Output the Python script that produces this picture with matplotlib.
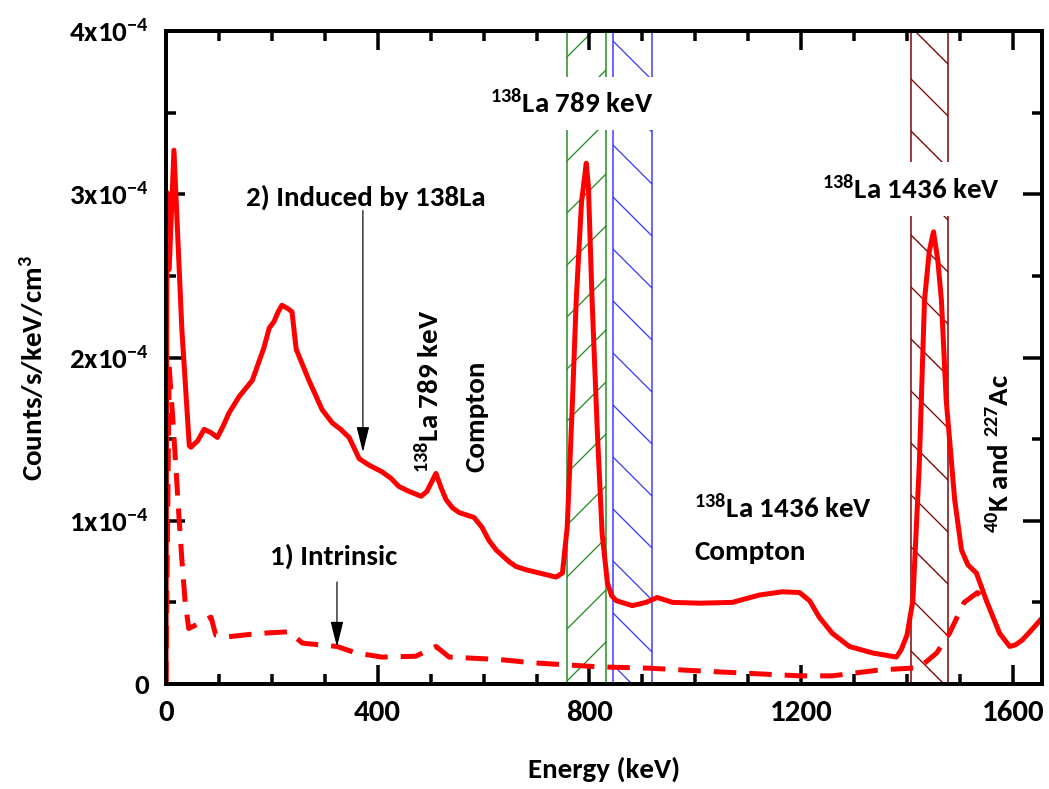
import matplotlib
matplotlib.use('Agg')
import matplotlib.pyplot as plt
from matplotlib import font_manager
from matplotlib.ticker import MultipleLocator, FixedLocator, FixedFormatter
from matplotlib.patches import ArrowStyle

DPI = 156
W, H = 1049, 789


def px(p):
    return p * 72.0 / DPI


# ---------------- data ----------------
# 2) induced by 138La (solid), counts in units of 1e-4 counts/s/keV/cm^3
energy_induced = [0, 2, 6, 15, 30, 44, 47, 60, 72, 85, 97, 108, 119, 138, 163, 185, 195, 204,
                  212, 219, 230, 238, 246, 270, 295, 314, 330, 346, 365, 384, 408, 425, 440,
                  459, 482, 493, 510, 520, 529, 541, 554, 582, 597, 610, 624, 648, 661, 680,
                  705, 737, 749, 758, 768, 775, 785, 794, 798, 805, 815, 824, 834, 842, 851,
                  881, 907, 928, 957, 1008, 1070, 1121, 1165, 1197, 1216, 1234, 1259, 1291,
                  1335, 1380, 1389, 1400, 1411, 1423, 1433, 1442, 1450, 1458, 1465, 1474, 1490,
                  1503, 1515, 1531, 1540, 1550, 1575, 1594, 1605, 1618, 1635, 1654]
counts_induced = [0.0, 3.01, 2.54, 3.27, 2.17, 1.46, 1.45, 1.49, 1.56, 1.54, 1.51, 1.58, 1.66,
                  1.76, 1.86, 2.06, 2.18, 2.22, 2.28, 2.32, 2.30, 2.28, 2.05, 1.86, 1.68, 1.60,
                  1.56, 1.51, 1.38, 1.34, 1.30, 1.26, 1.21, 1.18, 1.15, 1.18, 1.29, 1.20, 1.13,
                  1.08, 1.05, 1.02, 0.96, 0.88, 0.82, 0.75, 0.72, 0.70, 0.68, 0.655, 0.68, 0.96,
                  1.74, 2.35, 2.95, 3.19, 3.05, 2.35, 1.54, 0.92, 0.62, 0.54, 0.51, 0.48, 0.50,
                  0.53, 0.50, 0.495, 0.50, 0.545, 0.565, 0.56, 0.51, 0.41, 0.31, 0.23, 0.19,
                  0.165, 0.21, 0.30, 0.51, 1.33, 2.35, 2.65, 2.77, 2.60, 2.35, 1.74, 1.13, 0.82,
                  0.73, 0.68, 0.60, 0.51, 0.31, 0.23, 0.24, 0.27, 0.33, 0.40]

# 1) intrinsic (dashed)
energy_intrinsic = [0, 6, 9, 13, 19, 25, 30, 36, 43, 62, 85, 94, 119, 176, 232, 258, 323, 359,
                    408, 472, 510, 535, 630, 692, 818, 913, 1008, 1197, 1259, 1348, 1423, 1456,
                    1480, 1508, 1533, 1545]
counts_intrinsic = [0.0, 1.95, 1.80, 1.62, 1.31, 1.00, 0.76, 0.51, 0.34, 0.37, 0.41, 0.30, 0.29,
                    0.31, 0.32, 0.25, 0.23, 0.19, 0.165, 0.17, 0.23, 0.165, 0.15, 0.13, 0.105,
                    0.097, 0.08, 0.05, 0.05, 0.086, 0.10, 0.19, 0.31, 0.50, 0.56, 0.52]

# energy windows (keV)
band_lo = [758, 845, 1408]
band_hi = [832, 918, 1478]

xtick_values = [0, 400, 800, 1200, 1600]
xtick_labels = ['0', '400', '800', '1200', '1600']
ytick_values = [0, 1e-4, 2e-4, 3e-4, 4e-4]
ytick_labels = ['0', r'$\mathrm{1x10}^{-4}$', r'$\mathrm{2x10}^{-4}$',
                r'$\mathrm{3x10}^{-4}$', r'$\mathrm{4x10}^{-4}$']

band_colors = ['#228b22', '#3a3aff', '#800000']
band_hatches = ['/', '\\', '\\']

# ---------------- style ----------------
available = {f.name for f in font_manager.fontManager.ttflist}
FONT = 'DejaVu Sans'
for cand in ['Carlito', 'Liberation Sans Narrow', 'Archivo Narrow', 'Barlow Semi Condensed',
             'Lato']:
    if cand in available:
        FONT = cand
        break

plt.rcParams['font.family'] = [FONT, 'DejaVu Sans']
plt.rcParams['font.weight'] = 'bold'
plt.rcParams['mathtext.fontset'] = 'custom'
plt.rcParams['mathtext.rm'] = FONT + ':bold'
plt.rcParams['mathtext.it'] = FONT + ':bold'
plt.rcParams['mathtext.bf'] = FONT + ':bold'
plt.rcParams['mathtext.sf'] = FONT + ':bold'
plt.rcParams['hatch.linewidth'] = px(1.3)

FS = px(29)

fig = plt.figure(figsize=(W / DPI, H / DPI), dpi=DPI)
ax = fig.add_axes([166 / W, 1 - 684 / H, (1042 - 166) / W, (684 - 31) / H])

scale = 1e-4
y_ind = [c * scale for c in counts_induced]
y_int = [c * scale for c in counts_intrinsic]

for lo, hi, c, h in zip(band_lo, band_hi, band_colors, band_hatches):
    ax.axvspan(lo, hi, facecolor='none', edgecolor=c, hatch=h, linewidth=px(1.5), zorder=1)

ax.plot(energy_induced, y_ind, color='#ff0000', lw=px(5), solid_joinstyle='round', zorder=3)
ax.plot(energy_intrinsic, y_int, color='#ff0000', lw=px(5), dashes=(4.5, 2.6),
        dash_capstyle='butt', zorder=3)

ax.set_xlim(0, 1655)
ax.set_ylim(0, 4e-4)

ax.xaxis.set_major_locator(FixedLocator(xtick_values))
ax.xaxis.set_major_formatter(FixedFormatter(xtick_labels))
ax.xaxis.set_minor_locator(MultipleLocator(100))
ax.yaxis.set_major_locator(FixedLocator(ytick_values))
ax.yaxis.set_major_formatter(FixedFormatter(ytick_labels))
ax.yaxis.set_minor_locator(MultipleLocator(0.5e-4))

ax.tick_params(which='both', direction='in', top=True, right=True, width=px(3.5))
ax.tick_params(which='major', length=px(19))
ax.tick_params(which='minor', length=px(10))
ax.tick_params(axis='x', which='major', pad=px(16), labelsize=px(31))
ax.tick_params(axis='y', which='major', pad=px(17), labelsize=px(29))
for s in ax.spines.values():
    s.set_linewidth(px(4))
    s.set_zorder(5)

# axis labels
fig.text(604 / W, 1 - 769 / H, 'Energy (keV)', ha='center', va='center', fontsize=FS)
fig.text(34 / W, 1 - 368 / H, r'Counts/s/keV/cm$^{3}$', ha='center', va='center',
         rotation=90, fontsize=FS)

# annotations
box = dict(facecolor='white', edgecolor='none', boxstyle='square,pad=0.45')
ax.text(766, 3.556e-4, r'$^{138}$La 789 keV', ha='center', va='center', fontsize=FS,
        bbox=box, zorder=4)
ax.text(1408, 3.03e-4, r'$^{138}$La 1436 keV', ha='center', va='center', fontsize=FS,
        bbox=box, zorder=4)
ax.text(377, 2.98e-4, '2) Induced by 138La', ha='center', va='center', fontsize=FS)
ax.text(316, 0.78e-4, '1) Intrinsic', ha='center', va='center', fontsize=FS)
ax.text(497, 1.79e-4, r'$^{138}$La 789 keV', ha='center', va='center', rotation=90,
        fontsize=FS)
ax.text(586, 1.64e-4, 'Compton', ha='center', va='center', rotation=90, fontsize=FS)
ax.text(998, 1.08e-4, r'$^{138}$La 1436 keV', ha='left', va='center', fontsize=FS)
ax.text(998, 0.81e-4, 'Compton', ha='left', va='center', fontsize=FS)
ax.text(1575, 1.41e-4, r'$^{40}$K and $^{227}$Ac', ha='center', va='center', rotation=90,
        fontsize=FS)

astyle = ArrowStyle('-|>', head_length=1.0, head_width=0.25)
for xa, y0, y1 in [(372, 2.90e-4, 1.42e-4), (323, 0.625e-4, 0.227e-4)]:
    ax.annotate('', xy=(xa, y1), xytext=(xa, y0),
                arrowprops=dict(arrowstyle=astyle, color='black', lw=px(1.2),
                                mutation_scale=px(22), shrinkA=0, shrinkB=0),
                zorder=4)

fig.savefig('out.png', dpi=DPI)
